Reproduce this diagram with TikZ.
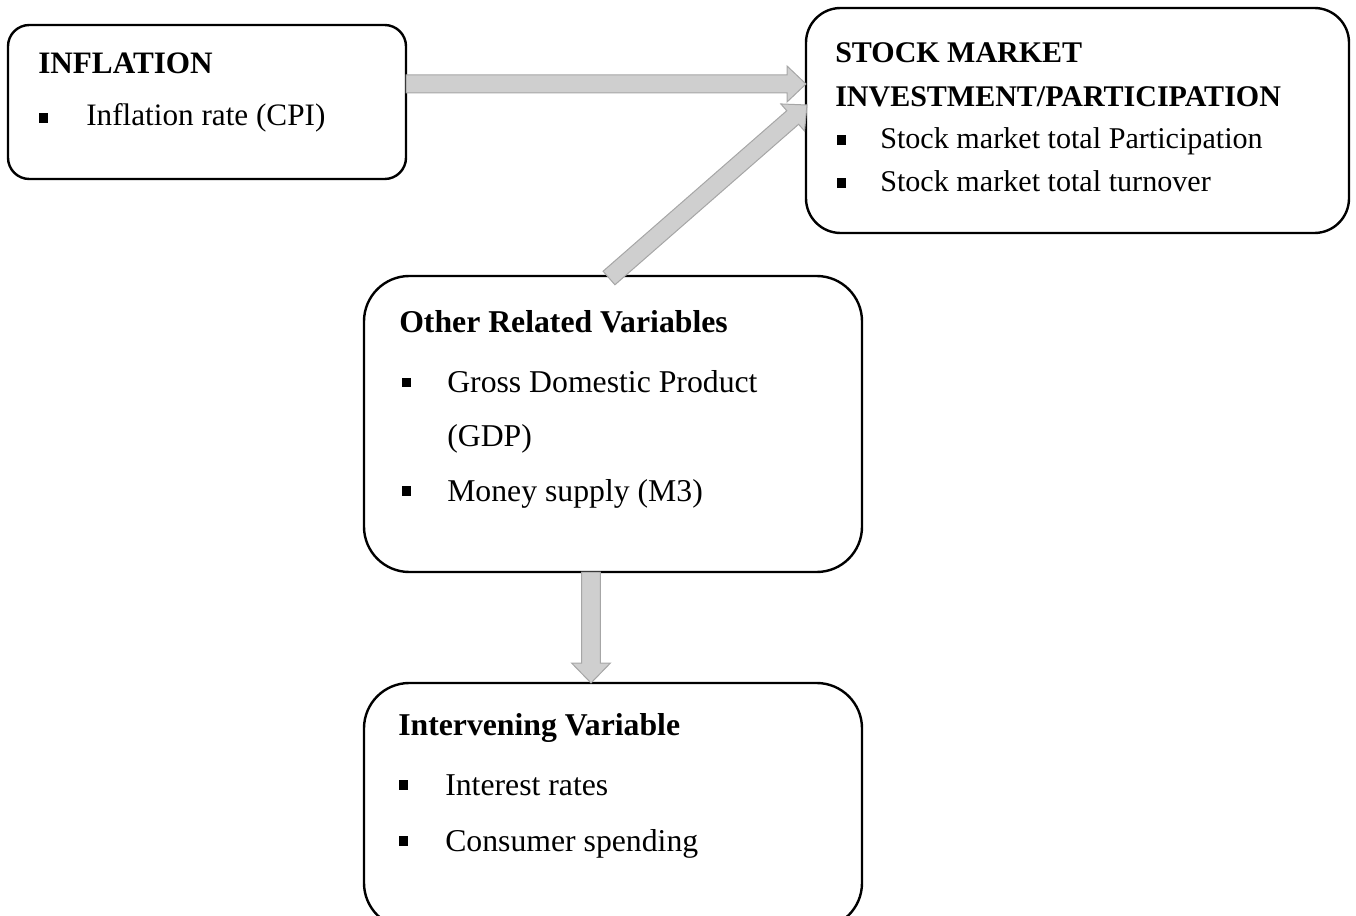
\documentclass[tikz,border=0pt]{standalone}
\usepackage{fontspec}
\setmainfont{Liberation Serif}
\usetikzlibrary{calc}
\definecolor{arrfill}{HTML}{CFCFCF}
\definecolor{arrdraw}{HTML}{A6A6A6}
\tikzset{
  box/.style={draw=black, line width=1.8pt, rounded corners=#1, inner sep=0pt, outer sep=0pt, anchor=north west},
  hdA/.style={anchor=base west, inner sep=0pt, font=\bfseries\fontsize{22.5}{27}\selectfont},
  itA/.style={anchor=base west, inner sep=0pt, font=\fontsize{22.6}{27}\selectfont},
  hdI/.style={anchor=base west, inner sep=0pt, font=\bfseries\fontsize{23.4}{27}\selectfont},
  itI/.style={anchor=base west, inner sep=0pt, font=\fontsize{23.4}{27}\selectfont},
  hdB/.style={anchor=base west, inner sep=0pt, font=\bfseries\fontsize{23.8}{28}\selectfont},
  itB/.style={anchor=base west, inner sep=0pt, font=\fontsize{23.8}{28}\selectfont},
  bul/.style={fill=black, inner sep=0pt, minimum size=6.8pt},
  blockarr/.style={fill=arrfill, draw=arrdraw, line width=0.75pt, line join=miter}
}
\newcommand{\blockarrow}[5]{%
  \coordinate (#1-#2-c) at ($(#2)!#5!(#1)$);
  \draw[blockarr] ($(#1)!#3!90:(#2)$) -- ($(#1-#2-c)!#3!-90:(#1)$) -- ($(#1-#2-c)!#4!-90:(#1)$) -- (#2) -- ($(#1-#2-c)!#4!90:(#1)$) -- ($(#1-#2-c)!#3!90:(#1)$) -- ($(#1)!#3!-90:(#2)$) -- cycle;}
\begin{document}
\begin{tikzpicture}[x=0.75pt, y=-0.75pt]
\useasboundingbox (0,0) rectangle (1356,916);
% boxes
\node[box=16pt, minimum width=298.5pt, minimum height=115.5pt] (inf) at (8,25) {};
\node[box=26pt, minimum width=407.25pt, minimum height=168.75pt] (stock) at (806,8) {};
\node[box=34pt, minimum width=373.5pt, minimum height=222pt] (oth) at (364,276) {};
\node[box=34pt, minimum width=373.5pt, minimum height=184pt] (int) at (364,683) {};
% inflation text
\node[hdI] (infT) at (38,74) {INFLATION};
\node[bul] (infB1) at (43.5,118) {};
\node[itI] (infI1) at (86,126) {Inflation rate (CPI)};
% stock text
\node[hdA] (stT1) at (835,63) {STOCK MARKET};
\node[hdA] (stT2) at (835,107) {INVESTMENT/PARTICIPATION};
\node[bul] (stB1) at (841.5,140) {};
\node[itA] (stI1) at (880,149) {Stock market total Participation};
\node[bul] (stB2) at (841.5,183) {};
\node[itA] (stI2) at (880,192) {Stock market total turnover};
% other text
\node[hdB] (othT) at (399,332) {Other Related Variables};
\node[bul] (othB1) at (406.5,382.5) {};
\node[itB] (othI1) at (447,392) {Gross Domestic Product};
\node[itB] (othI2) at (447,446) {(GDP)};
\node[bul] (othB2) at (406.5,491) {};
\node[itB] (othI3) at (447,501) {Money supply (M3)};
% intervening text
\node[hdB] (intT) at (398,735) {Intervening Variable};
\node[bul] (intB1) at (403.5,785) {};
\node[itB] (intI1) at (445,795) {Interest rates};
\node[bul] (intB2) at (403.5,841) {};
\node[itB] (intI2) at (445,851) {Consumer spending};
% arrows
\coordinate (a1s) at ($(inf.north east)!0.383!(inf.south east)$);
\coordinate (a1e) at (stock.west |- a1s);
\coordinate (a2s) at ($(oth.north west)+(245,2)$);
\coordinate (a2e) at ($(stock.north west)+(1,97)$);
\coordinate (a3s) at ($(oth.south west)+(227,0)$);
\coordinate (a3e) at ($(int.north west)+(227,0)$);
\blockarrow{a1s}{a1e}{6.75pt}{13.5pt}{14.25pt}
\blockarrow{a2s}{a2e}{6.75pt}{13.5pt}{14.25pt}
\blockarrow{a3s}{a3e}{7.1pt}{14.6pt}{15pt}
\end{tikzpicture}
\end{document}
